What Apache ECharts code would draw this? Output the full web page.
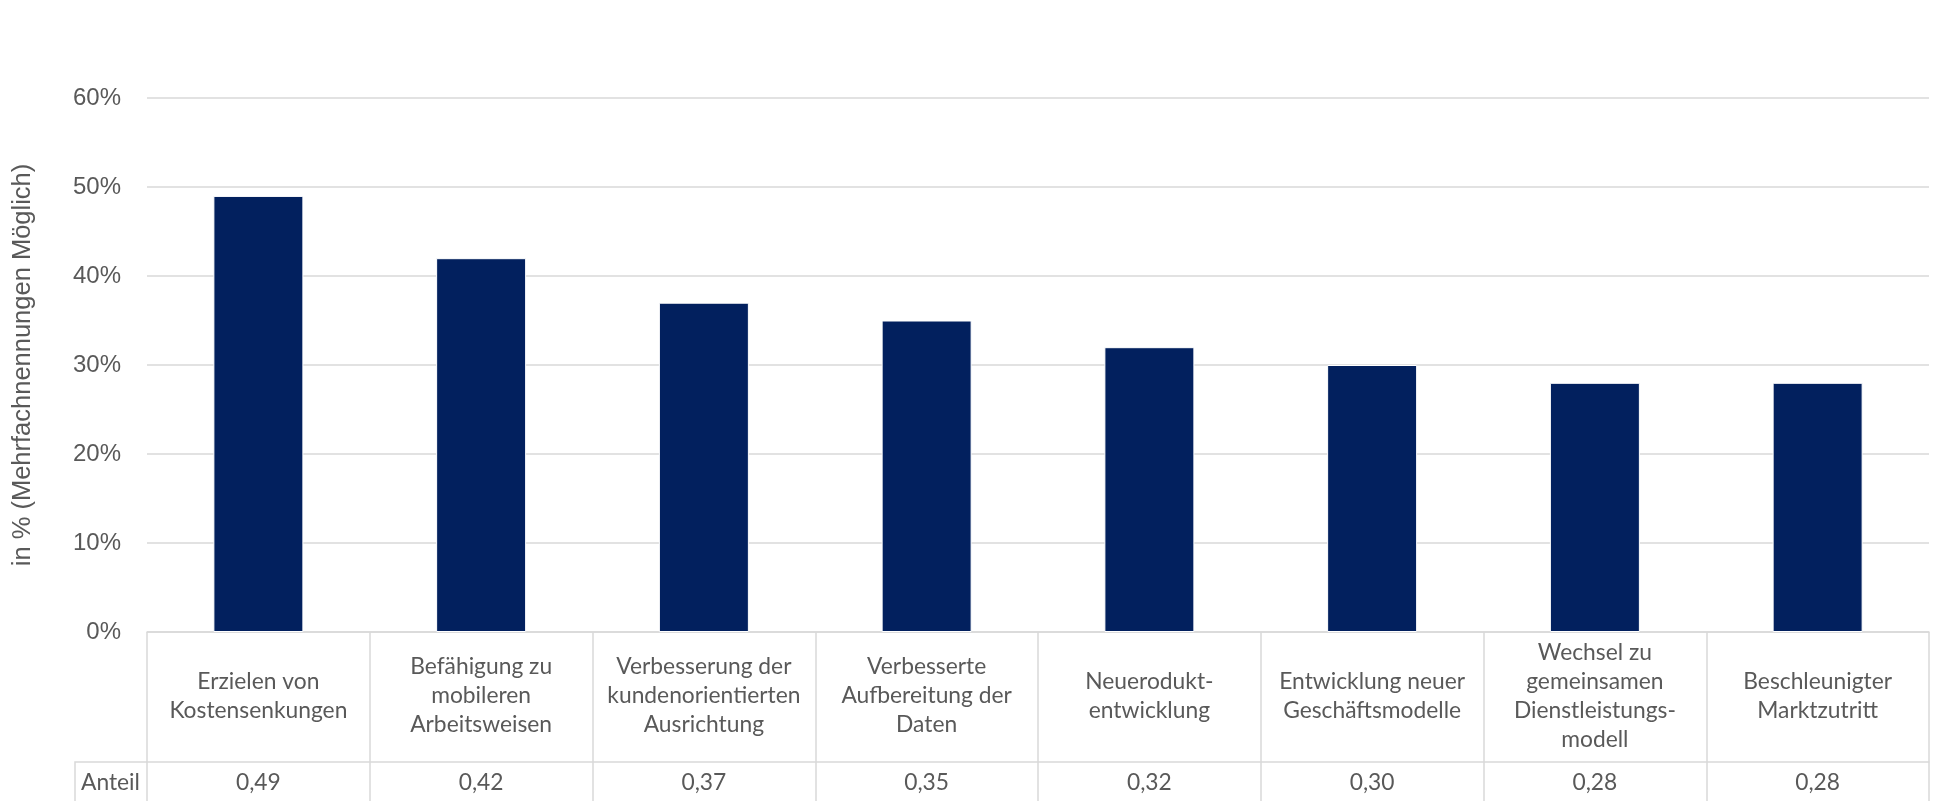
<!DOCTYPE html>
<html>
<head>
<meta charset="utf-8">
<script src="https://cdn.jsdelivr.net/npm/echarts@6/dist/echarts.min.js"></script>
<style>
    html, body { margin: 0; padding: 0; background: #fff; }
    #container { width: 1956px; height: 801px; }
</style>
</head>
<body>
<div id="container"></div>
<script>
    // categories, wrapped like in the source table
    var categories = [
        'Erzielen von\nKostensenkungen',
        'Befähigung zu\nmobileren\nArbeitsweisen',
        'Verbesserung der\nkundenorientierten\nAusrichtung',
        'Verbesserte\nAufbereitung der\nDaten',
        'Neuerodukt-\nentwicklung',
        'Entwicklung neuer\nGeschäftsmodelle',
        'Wechsel zu\ngemeinsamen\nDienstleistungs-\nmodell',
        'Beschleunigter\nMarktzutritt'
    ];
    // share in percent
    var anteil = [49, 42, 37, 35, 32, 30, 28, 28];
    var yTicks = { min: 0, max: 60, interval: 10 };

    var grey = '#595959';
    var lineGrey = '#d9d9d9';
    var tableFont = 'Lato, "Open Sans", sans-serif';

    var anteilLabels = anteil.map(function (v) {
        return (v / 100).toFixed(2).replace('.', ',');
    });

    var dom = document.getElementById('container');
    var myChart = echarts.init(dom, null, { renderer: 'canvas' });

    var option = {
        animation: false,
        backgroundColor: '#fff',
        grid: {
            left: 147,
            right: 27,
            top: 98,
            bottom: 169,
            containLabel: false
        },
        xAxis: [{
            type: 'category',
            data: categories,
            position: 'bottom',
            boundaryGap: true,
            axisLine: { show: true, lineStyle: { color: lineGrey, width: 1.5 } },
            axisTick: {
                show: true,
                interval: 0,
                length: 200,
                lineStyle: { color: lineGrey, width: 1.5 }
            },
            axisLabel: {
                interval: 0,
                margin: 64,
                verticalAlign: 'middle',
                align: 'center',
                color: grey,
                fontFamily: tableFont,
                fontSize: 22.8,
                lineHeight: 29
            },
            splitLine: { show: false }
        }, {
            type: 'category',
            data: anteilLabels,
            position: 'bottom',
            offset: 130,
            boundaryGap: true,
            axisLine: { show: true, lineStyle: { color: lineGrey, width: 1.5 } },
            axisTick: { show: false },
            axisLabel: {
                interval: 0,
                margin: 21,
                verticalAlign: 'middle',
                color: grey,
                fontFamily: tableFont,
                fontSize: 22.8
            },
            splitLine: { show: false }
        }],
        yAxis: {
            type: 'value',
            min: yTicks.min,
            max: yTicks.max,
            interval: yTicks.interval,
            name: 'in % (Mehrfachnennungen Möglich)',
            nameLocation: 'middle',
            nameGap: 111,
            nameTextStyle: {
                color: grey,
                fontFamily: '"Liberation Sans", Arial, sans-serif',
                fontSize: 25.5
            },
            axisLine: { show: false },
            axisTick: { show: false },
            axisLabel: {
                margin: 26,
                color: grey,
                fontFamily: '"Liberation Sans", Arial, sans-serif',
                fontSize: 24,
                formatter: '{value}%'
            },
            splitLine: { show: true, lineStyle: { color: lineGrey, width: 1.5 } }
        },
        series: [{
            type: 'bar',
            data: anteil,
            barWidth: 90,
            itemStyle: {
                color: '#02205e',
                borderColor: '#fff',
                borderWidth: 1
            }
        }],
        graphic: [{
            type: 'polyline',
            shape: { points: [[75, 801], [75, 762], [147, 762]] },
            style: { stroke: lineGrey, lineWidth: 1.5, fill: null }
        }, {
            type: 'text',
            x: 81,
            y: 783,
            style: {
                text: 'Anteil',
                fill: grey,
                font: '22.8px ' + tableFont,
                verticalAlign: 'middle'
            }
        }]
    };

    myChart.setOption(option);
</script>
</body>
</html>
